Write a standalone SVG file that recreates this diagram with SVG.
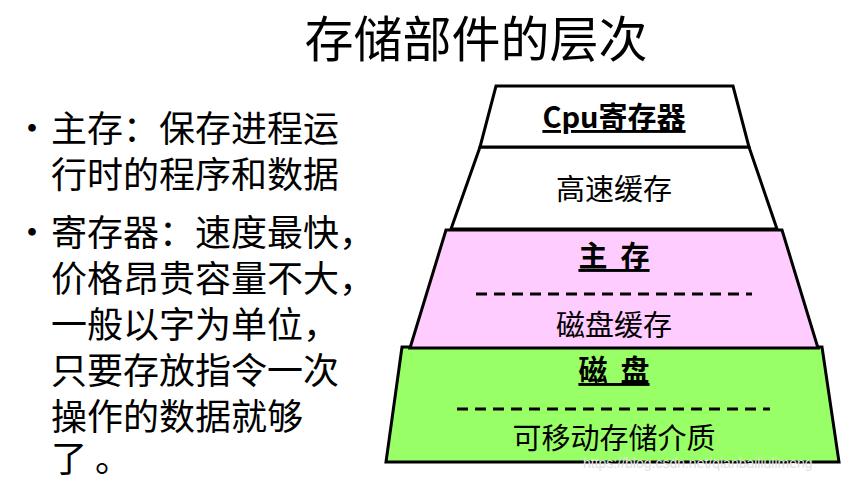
<svg xmlns="http://www.w3.org/2000/svg" width="852" height="483" viewBox="0 0 852 483">
<style>
.t{font-family:"Noto Sans CJK SC","Liberation Sans",sans-serif;fill:#000}
.L{font-size:36px}
.n{font-size:29px;text-anchor:middle}
.b{font-weight:bold;text-decoration:underline}
.s{stroke:#000;stroke-width:3}
.d{stroke:#000;stroke-width:3;stroke-dasharray:11,7}
</style>
<rect width="852" height="483" fill="#fff"/>
<text class="t" x="476" y="57" font-size="49" text-anchor="middle">存储部件的层次</text>
<g id="text-left" class="t L">
<text x="14" y="142">•</text><text x="51" y="142">主存：保存进程运</text>
<text x="51" y="188">行时的程序和数据</text>
<text x="14" y="246">•</text><text x="51" y="246">寄存器：速度最快，</text>
<text x="51" y="292">价格昂贵容量不大，</text>
<text x="51" y="338">一般以字为单位，</text>
<text x="51" y="384">只要存放指令一次</text>
<text x="51" y="430">操作的数据就够</text>
<text x="51" y="472">了 。</text>
</g>
<g id="disk">
<polygon class="s" points="402,347 822,347 839,462 386,462" fill="#99ff66"/>
<text class="t n b" x="614" y="381" xml:space="preserve">磁  盘</text>
<line class="d" x1="457" y1="409" x2="770" y2="409"/>
<text class="t n" x="614" y="449">可移动存储介质</text>
</g>
<g id="main">
<polygon class="s" points="446,230 782,230 818,348 410,348" fill="#ffccff"/>
<text class="t n b" x="614" y="267" xml:space="preserve">主  存</text>
<line class="d" x1="476" y1="294" x2="752" y2="294"/>
<text class="t n" x="614" y="336">磁盘缓存</text>
</g>
<g id="cache">
<polygon class="s" points="480,147 749,147 777,229 451,229" fill="#fff"/>
<text class="t n" x="614" y="200">高速缓存</text>
</g>
<g id="cpu">
<polygon class="s" points="496,86 733,86 749,147 480,147" fill="#fff"/>
<text class="t n b" x="614" y="128">Cpu寄存器</text>
</g>
<g id="connectors"/>
<text x="583" y="468" font-family="Liberation Sans,sans-serif" font-size="14" fill="#e0e0e0">https://blog.csdn.net/qianbailiulimeng</text>
</svg>
